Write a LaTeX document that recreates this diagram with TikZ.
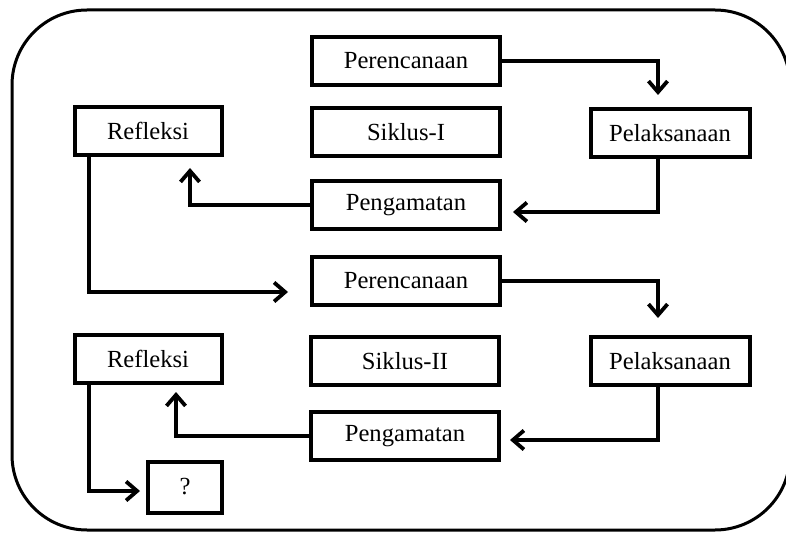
\documentclass[tikz,border=0pt]{standalone}
\usepackage{fontspec}
\setmainfont{Liberation Serif}
\usetikzlibrary{positioning, arrows.meta}

\begin{document}
\begin{tikzpicture}[x=0.5pt, y=-0.5pt,
  main node/.style={rectangle,draw,line width=2pt,inner sep=0pt,minimum height=24pt,
    font=\fontsize{12.3}{14}\selectfont},
  stage node/.style={main node,minimum width=94pt},
  side node/.style={main node,minimum width=73.5pt},
  act node/.style={main node,minimum width=79.5pt},
  flow/.style={line width=1.7pt,-{Straight Barb[length=5.5pt,width=9.5pt,line width=1.9pt]}}]

\useasboundingbox (0,0) rectangle (786,534);
\draw[line width=1.5pt, rounded corners=37.5pt] (12,10) rectangle (790,530);

% siklus I
\node[stage node] (plan1) at (406,61) {Perencanaan};
\node[stage node] (cyc1) at (406,132) {Siklus-I};
\node[stage node] (obs1) at (406,205) {Pengamatan};
\node[side node] (ref1) at (148,131) {Refleksi};
\node[act node] (act1) at (670,133) {Pelaksanaan};

% siklus II
\node[stage node] (plan2) at (406,281) {Perencanaan};
\node[stage node] (cyc2) at (405,361) {Siklus-II};
\node[stage node] (obs2) at (405,436) {Pengamatan};
\node[side node] (ref2) at (148,359) {Refleksi};
\node[act node] (act2) at (670,361) {Pelaksanaan};
\node[main node, minimum width=37pt, minimum height=25.5pt] (ask) at (185,487) {?};

\coordinate (a1in) at (658,95);
\coordinate (o1in) at (513,212);
\coordinate (r1in) at (190,168);
\coordinate (p2in) at (288,292);
\coordinate (a2in) at (658,318);
\coordinate (o2in) at (510,440);
\coordinate (r2in) at (176,392);
\coordinate (qin) at (140,491);

\draw[flow] (plan1.east) -| (a1in);
\draw[flow] (act1.south -| a1in) |- (o1in);
\draw[flow] (obs1.west) -| (r1in);
\draw[flow] ([xshift=-29.5pt]ref1.south) |- (p2in);
\draw[flow] (plan2.east) -| (a2in);
\draw[flow] (act2.south -| a2in) |- (o2in);
\draw[flow] (obs2.west) -| (r2in);
\draw[flow] ([xshift=-29.5pt]ref2.south) |- (qin);
\end{tikzpicture}
\end{document}
